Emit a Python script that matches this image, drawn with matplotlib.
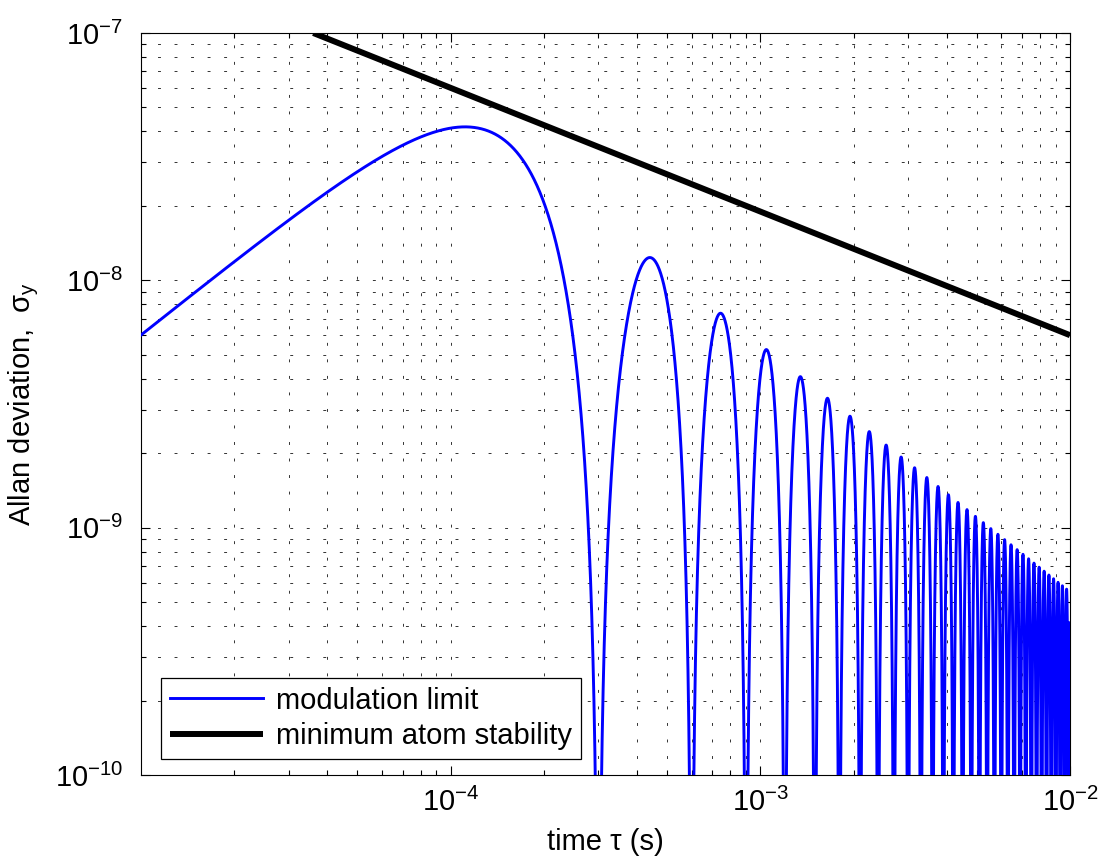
import numpy as np
import matplotlib
matplotlib.use("Agg")
import matplotlib.pyplot as plt
from matplotlib.ticker import LogLocator, NullFormatter, FixedLocator

plt.rcParams['font.family'] = ['Liberation Sans', 'DejaVu Sans']
plt.rcParams['mathtext.fontset'] = 'custom'
plt.rcParams['mathtext.rm'] = 'Liberation Sans'
plt.rcParams['mathtext.it'] = 'Liberation Sans:italic'

# ---- data ----
tau_limits = [1e-5, 1e-2]          # x-axis range (s)
sigma_limits = [1e-10, 1e-7]       # y-axis range
x_major_ticks = [1e-4, 1e-3, 1e-2]
y_major_ticks = [1e-10, 1e-9, 1e-8, 1e-7]

# modulation limit: lobes with zeros every 3.0e-4 s, lobe peaks follow sigma*tau ~ 5.5e-12
mod_zero_spacing_s = 3.0e-4
mod_peak_coeff = 5.5e-12

# minimum atom stability: straight line on log-log axes (slope -1/2)
atom_tau = [3.6e-5, 1e-2]
atom_sigma = [1.0e-7, 6.0e-9]

series_labels = ['modulation limit', 'minimum atom stability']
xlabel = 'time τ (s)'
ylabel = 'Allan deviation,  $\\mathregular{σ_y}$'

FS = 21

# ---- figure ----
fig = plt.figure(figsize=(11.06, 8.59), dpi=100)
ax = fig.add_axes([141/1106, 1 - 775/859, (1070-141)/1106, (775-33)/859])

tau = np.linspace(tau_limits[0], tau_limits[1], 120000)
sigma_mod = mod_peak_coeff * np.sin(np.pi * tau / mod_zero_spacing_s) ** 2 / tau

ax.plot(tau, sigma_mod, color=(0, 0, 1), lw=2.1, label=series_labels[0], zorder=3)
ax.plot(atom_tau, atom_sigma, color='black', lw=4.3, label=series_labels[1],
        solid_capstyle='butt', zorder=4)

ax.set_xscale('log')
ax.set_yscale('log')
ax.set_xlim(tau_limits)
ax.set_ylim(sigma_limits)

ax.xaxis.set_major_locator(FixedLocator(x_major_ticks))
ax.xaxis.set_minor_locator(LogLocator(base=10, subs=np.arange(2, 10), numticks=20))
ax.yaxis.set_major_locator(FixedLocator(y_major_ticks))
ax.yaxis.set_minor_locator(LogLocator(base=10, subs=np.arange(2, 10), numticks=20))
ax.xaxis.set_minor_formatter(NullFormatter())
ax.yaxis.set_minor_formatter(NullFormatter())

grid_style = dict(color='0.2', lw=0.7, linestyle=(0, (3, 14)))
ax.grid(True, which='both', **grid_style)
ax.set_axisbelow(True)

ax.tick_params(which='both', direction='in', top=True, right=True, width=0.8)
ax.tick_params(which='major', length=6.5, labelsize=FS)
ax.tick_params(axis='x', which='major', pad=9)
ax.tick_params(axis='y', which='major', pad=13)
ax.tick_params(which='minor', length=3.6)
for s in ax.spines.values():
    s.set_linewidth(0.8)

ax.set_xlabel(xlabel, fontsize=FS, labelpad=8)
ax.set_ylabel(ylabel, fontsize=FS, labelpad=10)

leg = ax.legend(loc='lower left', bbox_to_anchor=(0.0215, 0.0216), borderaxespad=0,
                fontsize=FS, handlelength=3.2, handletextpad=0.45, labelspacing=0.26,
                borderpad=0.3, fancybox=False, framealpha=1, edgecolor='black')
leg.get_frame().set_linewidth(0.9)

fig.savefig('out.png', dpi=100)
